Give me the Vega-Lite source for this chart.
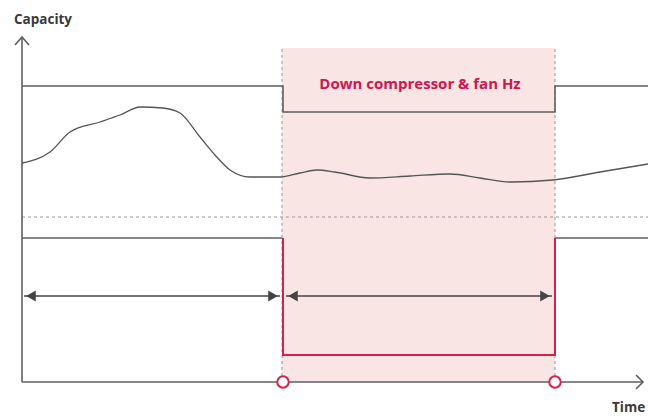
{
  "$schema": "https://vega.github.io/schema/vega-lite/v6.json",
  "width": 648,
  "height": 416,
  "autosize": {"type": "none"},
  "padding": 0,
  "background": "white",
  "config": {"view": {"stroke": null}},
  "datasets": {
    "zone": [{"t0": 282, "t1": 555, "c0": 34, "c1": 368}],
    "dashv": [
      {"seg": "a", "t": 282, "c": 34}, {"seg": "a", "t": 282, "c": 368},
      {"seg": "b", "t": 555, "c": 34}, {"seg": "b", "t": 555, "c": 368}
    ],
    "dotted": [{"t": 22, "c": 199}, {"t": 648, "c": 199}],
    "grey": [
      {"seg": "yaxis", "o": 1, "t": 22, "c": 34}, {"seg": "yaxis", "o": 2, "t": 22, "c": 379},
      {"seg": "yhead", "o": 1, "t": 15, "c": 371}, {"seg": "yhead", "o": 2, "t": 22, "c": 379}, {"seg": "yhead", "o": 3, "t": 29, "c": 371},
      {"seg": "xaxis", "o": 1, "t": 22, "c": 34}, {"seg": "xaxis", "o": 2, "t": 643, "c": 34},
      {"seg": "xhead", "o": 1, "t": 636, "c": 41}, {"seg": "xhead", "o": 2, "t": 643, "c": 34}, {"seg": "xhead", "o": 3, "t": 636, "c": 27},
      {"seg": "upper", "o": 1, "t": 22, "c": 330}, {"seg": "upper", "o": 2, "t": 283, "c": 330}, {"seg": "upper", "o": 3, "t": 283, "c": 304},
      {"seg": "upper", "o": 4, "t": 555, "c": 304}, {"seg": "upper", "o": 5, "t": 555, "c": 330}, {"seg": "upper", "o": 6, "t": 648, "c": 330},
      {"seg": "lowA", "o": 1, "t": 22, "c": 178}, {"seg": "lowA", "o": 2, "t": 282, "c": 178},
      {"seg": "lowB", "o": 1, "t": 555, "c": 178}, {"seg": "lowB", "o": 2, "t": 648, "c": 178}
    ],
    "red": [
      {"o": 1, "t": 283, "c": 178}, {"o": 2, "t": 283, "c": 61}, {"o": 3, "t": 555, "c": 61}, {"o": 4, "t": 555, "c": 178}
    ],
    "curve": [
      {"t": 22, "c": 253}, {"t": 50, "c": 264}, {"t": 70, "c": 284}, {"t": 100, "c": 294},
      {"t": 120, "c": 301}, {"t": 140, "c": 309}, {"t": 163, "c": 308}, {"t": 180, "c": 303},
      {"t": 200, "c": 279}, {"t": 215, "c": 261}, {"t": 230, "c": 246}, {"t": 250, "c": 239},
      {"t": 280, "c": 239}, {"t": 300, "c": 243}, {"t": 317, "c": 246}, {"t": 335, "c": 244},
      {"t": 370, "c": 238}, {"t": 410, "c": 240}, {"t": 450, "c": 242}, {"t": 480, "c": 238},
      {"t": 510, "c": 234}, {"t": 553, "c": 236}, {"t": 600, "c": 244}, {"t": 648, "c": 252}
    ],
    "arrows": [
      {"seg": "L", "t": 24, "c": 120}, {"seg": "L", "t": 280, "c": 120},
      {"seg": "R", "t": 286, "c": 120}, {"seg": "R", "t": 552, "c": 120}
    ],
    "heads": [
      {"t": 31, "c": 120, "dir": "left"}, {"t": 273, "c": 120, "dir": "right"},
      {"t": 293, "c": 120, "dir": "left"}, {"t": 545, "c": 120, "dir": "right"}
    ],
    "circles": [{"t": 283, "c": 34}, {"t": 555, "c": 34}],
    "labels": [
      {"t": 14, "c": 396, "txt": "Capacity"},
      {"t": 612, "c": 8, "txt": "Time"}
    ],
    "title": [{"t": 420, "c": 332, "txt": "Down compressor & fan Hz"}]
  },
  "layer": [
    {
      "data": {"name": "zone"},
      "mark": {"type": "rect", "fill": "#f9e5e3", "stroke": null},
      "encoding": {
        "x": {"field": "t0", "type": "quantitative", "scale": {"domain": [0, 648], "nice": false, "zero": false}, "axis": null},
        "x2": {"field": "t1"},
        "y": {"field": "c0", "type": "quantitative", "scale": {"domain": [0, 416], "nice": false, "zero": false}, "axis": null},
        "y2": {"field": "c1"}
      }
    },
    {
      "data": {"name": "dashv"},
      "mark": {"type": "line", "color": "#9a9a9a", "strokeWidth": 1, "strokeDash": [3, 3]},
      "encoding": {
        "x": {"field": "t", "type": "quantitative"},
        "y": {"field": "c", "type": "quantitative"},
        "detail": {"field": "seg"}
      }
    },
    {
      "data": {"name": "dotted"},
      "mark": {"type": "line", "color": "#9a9a9a", "strokeWidth": 1, "strokeDash": [3, 3]},
      "encoding": {
        "x": {"field": "t", "type": "quantitative"},
        "y": {"field": "c", "type": "quantitative"}
      }
    },
    {
      "data": {"name": "curve"},
      "mark": {"type": "line", "color": "#555555", "strokeWidth": 1.3, "interpolate": "monotone"},
      "encoding": {
        "x": {"field": "t", "type": "quantitative"},
        "y": {"field": "c", "type": "quantitative"}
      }
    },
    {
      "data": {"name": "grey"},
      "mark": {"type": "line", "color": "#5f5f5f", "strokeWidth": 1.6},
      "encoding": {
        "x": {"field": "t", "type": "quantitative"},
        "y": {"field": "c", "type": "quantitative"},
        "detail": {"field": "seg"},
        "order": {"field": "o"}
      }
    },
    {
      "data": {"name": "red"},
      "mark": {"type": "line", "color": "#d6204f", "strokeWidth": 2},
      "encoding": {
        "x": {"field": "t", "type": "quantitative"},
        "y": {"field": "c", "type": "quantitative"},
        "order": {"field": "o"}
      }
    },
    {
      "data": {"name": "arrows"},
      "mark": {"type": "line", "color": "#444444", "strokeWidth": 1.5},
      "encoding": {
        "x": {"field": "t", "type": "quantitative"},
        "y": {"field": "c", "type": "quantitative"},
        "detail": {"field": "seg"}
      }
    },
    {
      "data": {"name": "heads"},
      "mark": {"type": "point", "filled": true, "color": "#444444", "size": 120, "opacity": 1},
      "encoding": {
        "x": {"field": "t", "type": "quantitative"},
        "y": {"field": "c", "type": "quantitative"},
        "shape": {"field": "dir", "type": "nominal", "scale": {"domain": ["left", "right"], "range": ["triangle-left", "triangle-right"]}, "legend": null}
      }
    },
    {
      "data": {"name": "circles"},
      "mark": {"type": "point", "shape": "circle", "filled": true, "fill": "white", "stroke": "#d6204f", "strokeWidth": 2, "size": 130, "opacity": 1},
      "encoding": {
        "x": {"field": "t", "type": "quantitative"},
        "y": {"field": "c", "type": "quantitative"}
      }
    },
    {
      "data": {"name": "labels"},
      "mark": {"type": "text", "align": "left", "baseline": "middle", "font": "Open Sans", "fontSize": 13.5, "fontWeight": "bold", "color": "#3a3a3a", "letterSpacing": -0.6},
      "encoding": {
        "x": {"field": "t", "type": "quantitative"},
        "y": {"field": "c", "type": "quantitative"},
        "text": {"field": "txt"}
      }
    },
    {
      "data": {"name": "title"},
      "mark": {"type": "text", "align": "center", "baseline": "middle", "font": "Open Sans", "fontSize": 15, "fontWeight": "bold", "color": "#d3144f", "letterSpacing": -0.3},
      "encoding": {
        "x": {"field": "t", "type": "quantitative"},
        "y": {"field": "c", "type": "quantitative"},
        "text": {"field": "txt"}
      }
    }
  ]
}
